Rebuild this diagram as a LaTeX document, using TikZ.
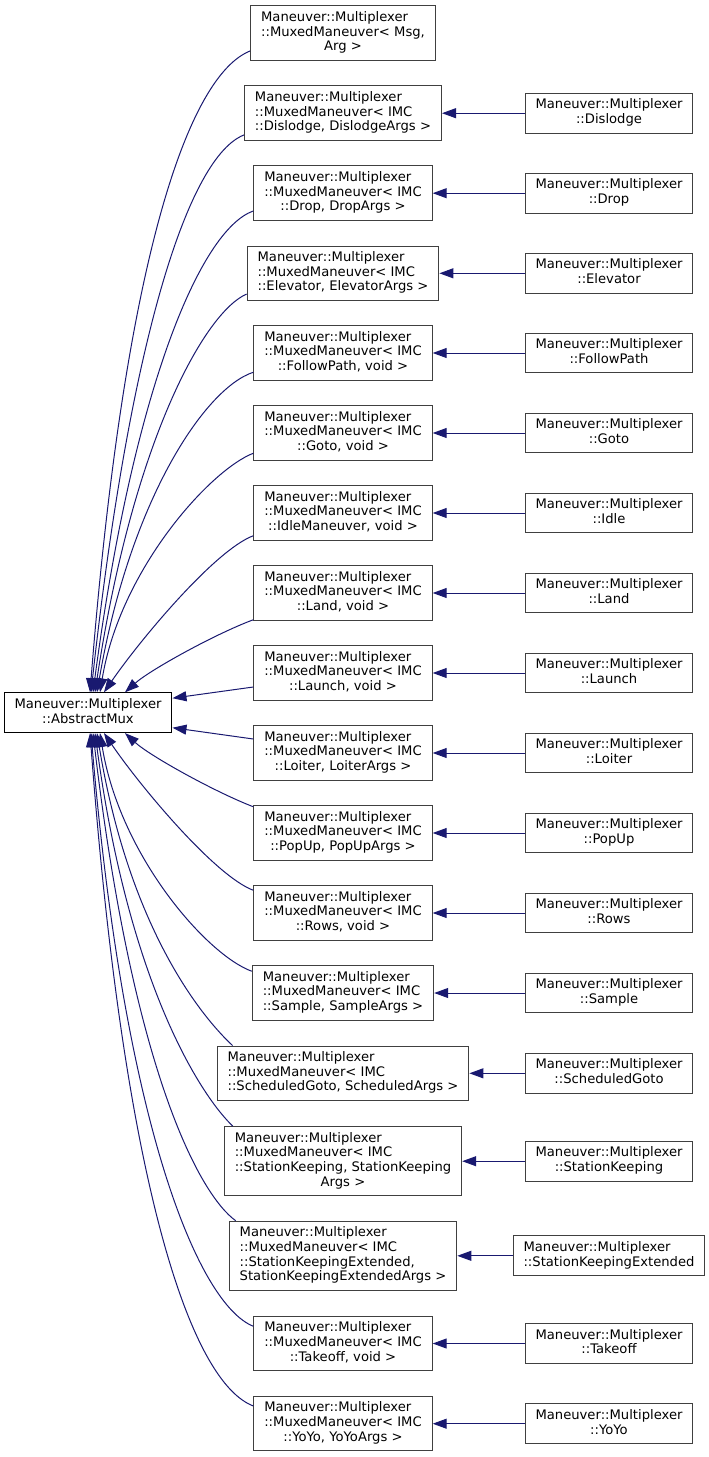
\documentclass[tikz,border=0pt]{standalone}
\usepackage{fontspec}
\setmainfont{DejaVu Sans}
\usetikzlibrary{arrows.meta}
\definecolor{edgeblue}{HTML}{191970}
\definecolor{boxgray}{HTML}{404040}
% all lines but the last one left aligned, the last one centred
\newcommand{\classlabel}[2]{\begin{tabular}{@{}l@{}}#1\\\multicolumn{1}{@{}c@{}}{#2}\end{tabular}}

\begin{document}
\begin{tikzpicture}[x=1pt,y=-1pt,>={Triangle[length=14pt,width=10pt]},font=\fontsize{13.15}{14.7}\selectfont,
	cls/.style={draw=boxgray,line width=1pt,fill=white,inner xsep=10.5pt,inner ysep=5.2pt},
	inh/.style={->,color=edgeblue,line width=1pt}]
	\useasboundingbox (0,0) rectangle (709,1457);
	% base class
	\node[cls,draw=black] (mux) at (88,712.7) {\classlabel{Maneuver::Multiplexer}{::AbstractMux}};
	% templates
	\node[cls] (mmMsg) at (343,33.2) {\classlabel{Maneuver::Multiplexer\\::MuxedManeuver< Msg,}{Arg >}};
	\node[cls] (mmDislodge) at (343,113.2) {\classlabel{Maneuver::Multiplexer\\::MuxedManeuver< IMC}{::Dislodge, DislodgeArgs >}};
	\node[cls] (mmDrop) at (343,193.2) {\classlabel{Maneuver::Multiplexer\\::MuxedManeuver< IMC}{::Drop, DropArgs >}};
	\node[cls] (mmElevator) at (343,273.3) {\classlabel{Maneuver::Multiplexer\\::MuxedManeuver< IMC}{::Elevator, ElevatorArgs >}};
	\node[cls] (mmFollowPath) at (343,353) {\classlabel{Maneuver::Multiplexer\\::MuxedManeuver< IMC}{::FollowPath, void >}};
	\node[cls] (mmGoto) at (343,433) {\classlabel{Maneuver::Multiplexer\\::MuxedManeuver< IMC}{::Goto, void >}};
	\node[cls] (mmIdle) at (343,513) {\classlabel{Maneuver::Multiplexer\\::MuxedManeuver< IMC}{::IdleManeuver, void >}};
	\node[cls] (mmLand) at (343,593) {\classlabel{Maneuver::Multiplexer\\::MuxedManeuver< IMC}{::Land, void >}};
	\node[cls] (mmLaunch) at (343,673) {\classlabel{Maneuver::Multiplexer\\::MuxedManeuver< IMC}{::Launch, void >}};
	\node[cls] (mmLoiter) at (343,753) {\classlabel{Maneuver::Multiplexer\\::MuxedManeuver< IMC}{::Loiter, LoiterArgs >}};
	\node[cls] (mmPopUp) at (343,833) {\classlabel{Maneuver::Multiplexer\\::MuxedManeuver< IMC}{::PopUp, PopUpArgs >}};
	\node[cls] (mmRows) at (343,913) {\classlabel{Maneuver::Multiplexer\\::MuxedManeuver< IMC}{::Rows, void >}};
	\node[cls] (mmSample) at (343,993) {\classlabel{Maneuver::Multiplexer\\::MuxedManeuver< IMC}{::Sample, SampleArgs >}};
	\node[cls] (mmScheduledGoto) at (343,1073.3) {\classlabel{Maneuver::Multiplexer\\::MuxedManeuver< IMC}{::ScheduledGoto, ScheduledArgs >}};
	\node[cls] (mmStationKeeping) at (343,1161.2) {\classlabel{Maneuver::Multiplexer\\::MuxedManeuver< IMC\\::StationKeeping, StationKeeping}{Args >}};
	\node[cls] (mmStationKeepingExt) at (343,1255.8) {\classlabel{Maneuver::Multiplexer\\::MuxedManeuver< IMC\\::StationKeepingExtended,}{StationKeepingExtendedArgs >}};
	\node[cls] (mmTakeoff) at (343,1343.5) {\classlabel{Maneuver::Multiplexer\\::MuxedManeuver< IMC}{::Takeoff, void >}};
	\node[cls] (mmYoYo) at (343,1423.7) {\classlabel{Maneuver::Multiplexer\\::MuxedManeuver< IMC}{::YoYo, YoYoArgs >}};
	% maneuvers
	\node[cls] (dislodge) at (609,113.2) {\classlabel{Maneuver::Multiplexer}{::Dislodge}};
	\node[cls] (drop) at (609,193.2) {\classlabel{Maneuver::Multiplexer}{::Drop}};
	\node[cls] (elevator) at (609,273.3) {\classlabel{Maneuver::Multiplexer}{::Elevator}};
	\node[cls] (followPath) at (609,353) {\classlabel{Maneuver::Multiplexer}{::FollowPath}};
	\node[cls] (goto) at (609,433) {\classlabel{Maneuver::Multiplexer}{::Goto}};
	\node[cls] (idle) at (609,513) {\classlabel{Maneuver::Multiplexer}{::Idle}};
	\node[cls] (land) at (609,593) {\classlabel{Maneuver::Multiplexer}{::Land}};
	\node[cls] (launch) at (609,673) {\classlabel{Maneuver::Multiplexer}{::Launch}};
	\node[cls] (loiter) at (609,753) {\classlabel{Maneuver::Multiplexer}{::Loiter}};
	\node[cls] (popUp) at (609,833) {\classlabel{Maneuver::Multiplexer}{::PopUp}};
	\node[cls] (rows) at (609,913) {\classlabel{Maneuver::Multiplexer}{::Rows}};
	\node[cls] (sample) at (609,993) {\classlabel{Maneuver::Multiplexer}{::Sample}};
	\node[cls] (scheduledGoto) at (609,1073.3) {\classlabel{Maneuver::Multiplexer}{::ScheduledGoto}};
	\node[cls] (stationKeeping) at (609,1161.2) {\classlabel{Maneuver::Multiplexer}{::StationKeeping}};
	\node[cls] (stationKeepingExt) at (609,1255.8) {\classlabel{Maneuver::Multiplexer}{::StationKeepingExtended}};
	\node[cls] (takeoff) at (609,1343.5) {\classlabel{Maneuver::Multiplexer}{::Takeoff}};
	\node[cls] (yoYo) at (609,1423.7) {\classlabel{Maneuver::Multiplexer}{::YoYo}};
	% edges into the base class, from the top
	\draw[inh] ([yshift=10pt]mmMsg.south west) .. controls (190,75) and (125,250) .. ([xshift=2pt]mux.north);
	\draw[inh] ([yshift=6pt]mmDislodge.south west) .. controls (190,156) and (131,330) .. ([xshift=3pt]mux.north);
	\draw[inh] ([yshift=10pt]mmDrop.south west) .. controls (200,230) and (133,390) .. ([xshift=5pt]mux.north);
	\draw[inh] ([yshift=7pt]mmElevator.south west) .. controls (205,312) and (133,440) .. ([xshift=7pt]mux.north);
	\draw[inh] ([yshift=8.5pt]mmFollowPath.south west) .. controls (205,388) and (130,500) .. ([xshift=9pt]mux.north);
	\draw[inh] ([yshift=7.5pt]mmGoto.south west) .. controls (210,470) and (120,570) .. ([xshift=12pt]mux.north);
	\draw[inh] ([yshift=5pt]mmIdle.south west) .. controls (215,550) and (140,640) .. ([xshift=16pt]mux.north);
	\draw[inh] ([yshift=1pt]mmLand.south west) .. controls (215,634) and (150,670) .. ([xshift=37pt]mux.north);
	\draw[inh] ([yshift=-14pt]mmLaunch.west) -- ([yshift=14.5pt]mux.east);
	\draw[inh] ([yshift=14pt]mmLoiter.west) -- ([yshift=-15pt]mux.east);
	% and from below
	\draw[inh] ([yshift=-1.5pt]mmPopUp.north west) .. controls (215,792) and (150,756) .. ([xshift=37pt]mux.south);
	\draw[inh] ([yshift=-5pt]mmRows.north west) .. controls (215,876) and (140,786) .. ([xshift=16pt]mux.south);
	\draw[inh] ([yshift=-6pt]mmSample.north west) .. controls (207,955) and (120,856) .. ([xshift=12pt]mux.south);
	\draw[inh] ([xshift=16pt]mmScheduledGoto.north west) .. controls (205,1020) and (130,933) .. ([xshift=9pt]mux.south);
	\draw[inh] ([xshift=9pt]mmStationKeeping.north west) .. controls (205,1100) and (130,993) .. ([xshift=7pt]mux.south);
	\draw[inh] ([xshift=7pt]mmStationKeepingExt.north west) .. controls (200,1195) and (133,1073) .. ([xshift=5pt]mux.south);
	\draw[inh] ([yshift=-10.5pt]mmTakeoff.north west) .. controls (200,1305) and (125,1133) .. ([xshift=3pt]mux.south);
	\draw[inh] ([yshift=-10pt]mmYoYo.north west) .. controls (193,1383) and (125,1198) .. ([xshift=2pt]mux.south);
	% concrete maneuvers
	\draw[inh] (dislodge) -- (mmDislodge);
	\draw[inh] (drop) -- (mmDrop);
	\draw[inh] (elevator) -- (mmElevator);
	\draw[inh] (followPath) -- (mmFollowPath);
	\draw[inh] (goto) -- (mmGoto);
	\draw[inh] (idle) -- (mmIdle);
	\draw[inh] (land) -- (mmLand);
	\draw[inh] (launch) -- (mmLaunch);
	\draw[inh] (loiter) -- (mmLoiter);
	\draw[inh] (popUp) -- (mmPopUp);
	\draw[inh] (rows) -- (mmRows);
	\draw[inh] (sample) -- (mmSample);
	\draw[inh] (scheduledGoto) -- (mmScheduledGoto);
	\draw[inh] (stationKeeping) -- (mmStationKeeping);
	\draw[inh] (stationKeepingExt) -- (mmStationKeepingExt);
	\draw[inh] (takeoff) -- (mmTakeoff);
	\draw[inh] (yoYo) -- (mmYoYo);
\end{tikzpicture}
\end{document}
